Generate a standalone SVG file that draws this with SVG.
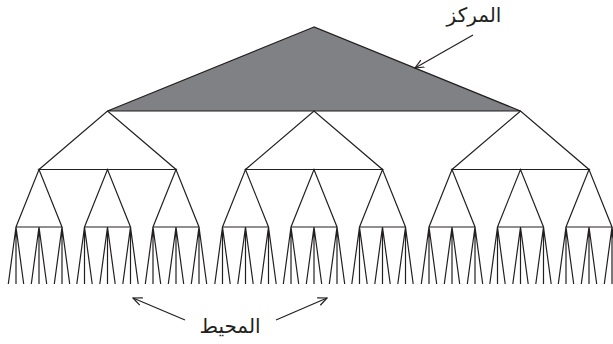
<svg xmlns="http://www.w3.org/2000/svg" xmlns:xlink="http://www.w3.org/1999/xlink" width="613" height="344" viewBox="0 0 613 344">
<style>
.ln{fill:none;stroke:#231f20;stroke-width:1.2;stroke-linejoin:miter}
.core{fill:#808184;stroke:#231f20;stroke-width:1.2}
.lbl{font-family:"DejaVu Sans",sans-serif;font-size:20px;fill:#231f20;text-anchor:middle}
.arr{fill:none;stroke:#231f20;stroke-width:1.2;marker-end:url(#ah)}
</style>
<defs>
<marker id="ah" viewBox="0 0 10 10" refX="9" refY="5" markerWidth="10" markerHeight="10" markerUnits="userSpaceOnUse" orient="auto">
<path d="M0,1 L9,5 L0,9" fill="none" stroke="#231f20" stroke-width="1.2"/>
</marker>
<path id="t1" class="ln" d="M-68.5 58.5 L0 0 L68.5 58.5 Z"/>
<path id="t2" class="ln" d="M-23 57.5 L0 0 L23 57.5 Z"/>
<path id="fan" class="ln" d="M-7.7 57 L0 0 L7.7 57 M0 0 V57"/>
</defs>
<g id="core">
<polygon class="core" points="314,27 107.5,111 520.5,111"/>
</g>
<g id="level1">
<use xlink:href="#t1" x="107.5" y="111"/>
<use xlink:href="#t1" x="314" y="111"/>
<use xlink:href="#t1" x="520.5" y="111"/>
</g>
<g id="level2">
<use xlink:href="#t2" x="39" y="169.5"/>
<use xlink:href="#t2" x="107.5" y="169.5"/>
<use xlink:href="#t2" x="176" y="169.5"/>
<use xlink:href="#t2" x="245.5" y="169.5"/>
<use xlink:href="#t2" x="314" y="169.5"/>
<use xlink:href="#t2" x="382.5" y="169.5"/>
<use xlink:href="#t2" x="452" y="169.5"/>
<use xlink:href="#t2" x="520.5" y="169.5"/>
<use xlink:href="#t2" x="589" y="169.5"/>
</g>
<g id="periphery">
<use xlink:href="#fan" x="16" y="227"/><use xlink:href="#fan" x="39" y="227"/><use xlink:href="#fan" x="62" y="227"/>
<use xlink:href="#fan" x="84.5" y="227"/><use xlink:href="#fan" x="107.5" y="227"/><use xlink:href="#fan" x="130.5" y="227"/>
<use xlink:href="#fan" x="153" y="227"/><use xlink:href="#fan" x="176" y="227"/><use xlink:href="#fan" x="199" y="227"/>
<use xlink:href="#fan" x="222.5" y="227"/><use xlink:href="#fan" x="245.5" y="227"/><use xlink:href="#fan" x="268.5" y="227"/>
<use xlink:href="#fan" x="291" y="227"/><use xlink:href="#fan" x="314" y="227"/><use xlink:href="#fan" x="337" y="227"/>
<use xlink:href="#fan" x="359.5" y="227"/><use xlink:href="#fan" x="382.5" y="227"/><use xlink:href="#fan" x="405.5" y="227"/>
<use xlink:href="#fan" x="429" y="227"/><use xlink:href="#fan" x="452" y="227"/><use xlink:href="#fan" x="475" y="227"/>
<use xlink:href="#fan" x="497.5" y="227"/><use xlink:href="#fan" x="520.5" y="227"/><use xlink:href="#fan" x="543.5" y="227"/>
<use xlink:href="#fan" x="566" y="227"/><use xlink:href="#fan" x="589" y="227"/><use xlink:href="#fan" x="612" y="227"/>
</g>
<g id="connectors">
<line class="arr" x1="473" y1="35" x2="415" y2="68"/>
<line class="arr" x1="185" y1="320" x2="133" y2="298"/>
<line class="arr" x1="276" y1="320" x2="327" y2="298"/>
</g>
<g id="label-core"><text class="lbl" x="474" y="22">المركز</text></g>
<g id="label-periphery"><text class="lbl" x="230" y="333">المحيط</text></g>
</svg>
